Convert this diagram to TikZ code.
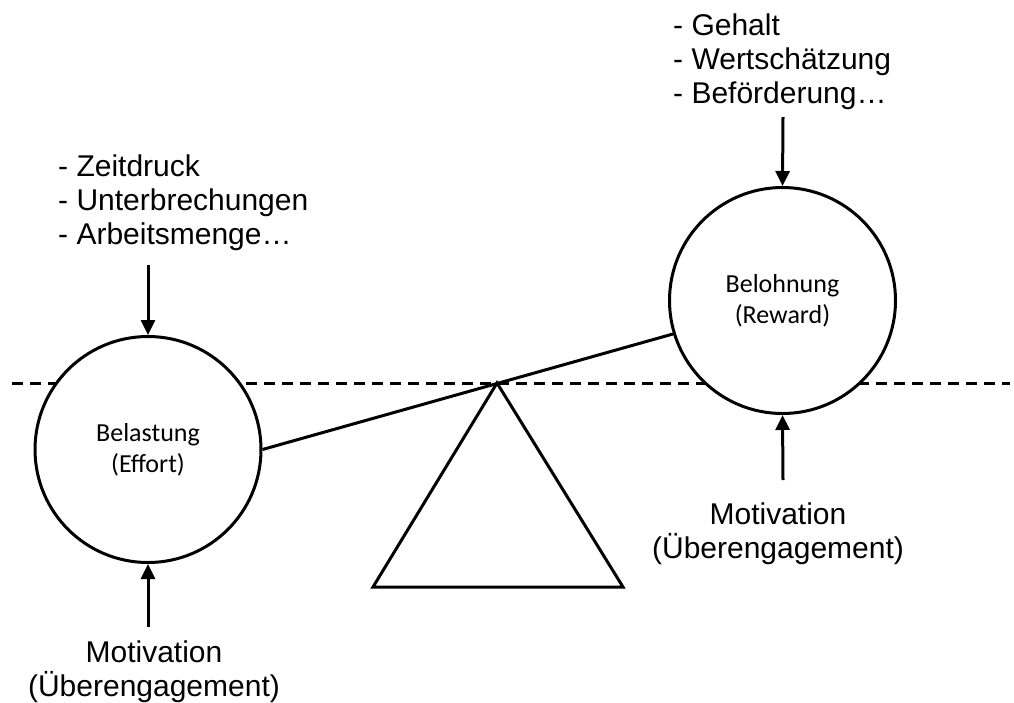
\documentclass[tikz,border=0pt]{standalone}
\usepackage{fontspec}
\setmainfont{Liberation Sans}
\newfontfamily\calib{Carlito}
\usetikzlibrary{arrows.meta}
\begin{document}
\begin{tikzpicture}[x=1pt,y=-1pt,
  lw/.style={line width=3pt},
  ball/.style={circle, draw, line width=3pt, fill=white, minimum size=226pt, inner sep=0pt, align=center, font=\calib\fontsize{26}{31}\selectfont},
  arr/.style={line width=3pt, -{Triangle[length=15pt,width=14pt]}},
  lbl/.style={inner sep=0pt, font=\fontsize{30}{34}\selectfont},
]
\useasboundingbox (0,0) rectangle (1014,702);
\coordinate (dl) at (12,383);
\coordinate (dr) at (1010,383);
\draw[lw, dash pattern=on 11pt off 7pt] (dl) -- (dr);
\node[ball] (L) at (148,449.5) {Belastung\\(Effort)};
\node[ball] (R) at (782.5,300.5) {Belohnung\\(Reward)};
\coordinate (apex) at (497,383);
\coordinate (bl) at (373,587);
\coordinate (br) at (623,587);
\draw[lw, line join=miter] (apex) -- (bl) -- (br) -- cycle;
\draw[lw] (L.east) -- (R.197);
\coordinate (t1) at (148,265);
\coordinate (t2) at (783,117);
\coordinate (t3) at (148,627);
\coordinate (t4) at (783,480);
\draw[arr] (t1) -- (L.north);
\draw[arr] (t2) -- (R.north);
\draw[arr] (t3) -- (L.south);
\draw[arr] (t4) -- (R.south);
\node[lbl, anchor=north west, align=left] (lt) at (58,155) {- Zeitdruck\\- Unterbrechungen\\- Arbeitsmenge…};
\node[lbl, anchor=north west, align=left] (rt) at (673,14) {- Gehalt\\- Wertschätzung\\- Beförderung…};
\node[lbl, anchor=north, align=center] (lb) at (154,640.5) {Motivation\\(Überengagement)};
\node[lbl, anchor=north, align=center] (rb) at (778,502.5) {Motivation\\(Überengagement)};
\end{tikzpicture}
\end{document}
